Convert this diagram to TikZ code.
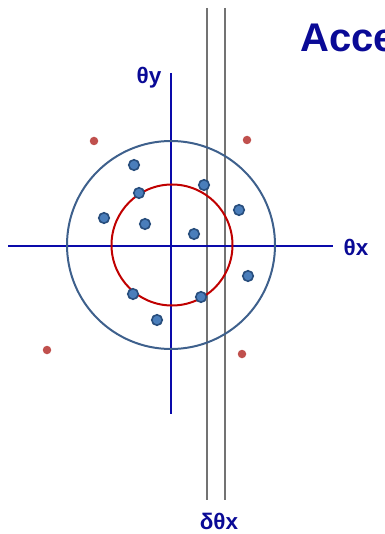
\documentclass[tikz,border=0pt]{standalone}
\usepackage{fontspec}
\setmainfont{Liberation Sans}
\definecolor{axisblue}{RGB}{10,10,170}
\definecolor{txtblue}{RGB}{10,10,150}
\definecolor{ringblue}{RGB}{62,96,140}
\definecolor{ringred}{RGB}{192,0,0}
\definecolor{dotfill}{RGB}{74,126,187}
\definecolor{dotedge}{RGB}{40,78,125}
\definecolor{reddot}{RGB}{192,80,77}
\begin{document}
\begin{tikzpicture}[x=1pt,y=-1pt,
  axis/.style={draw=axisblue,line width=1.1pt},
  slit/.style={draw=black!55,line width=1.1pt},
  lbl/.style={text=txtblue,font=\bfseries\fontsize{22.5}{24}\selectfont,inner sep=0pt},
  bdot/.style={circle,fill=dotfill,draw=dotedge,line width=1.6pt,minimum size=10.5pt,inner sep=0pt},
  rdot/.style={circle,fill=reddot,minimum size=8.5pt,inner sep=0pt}]
\useasboundingbox (0,0) rectangle (384,534);
% slits
\coordinate (s1t) at (207,8); \coordinate (s1b) at (207,500);
\coordinate (s2t) at (225,8); \coordinate (s2b) at (225,500);
\draw[slit] (s1t) -- (s1b);
\draw[slit] (s2t) -- (s2b);
% axes
\coordinate (xl) at (8,246); \coordinate (xr) at (333,246);
\coordinate (yt) at (171,73); \coordinate (yb) at (171,414);
\draw[axis] (xl) -- (xr);
\draw[axis] (yt) -- (yb);
% circles
\node[circle,draw=ringblue,line width=2pt,minimum size=208pt,inner sep=0pt] (outer) at (171,245) {};
\node[circle,draw=ringred,line width=2pt,minimum size=121pt,inner sep=0pt] (inner) at (172,245) {};
% blue dots
\node[bdot] (b1) at (134,165) {};
\node[bdot] (b2) at (139,193) {};
\node[bdot] (b3) at (204,185) {};
\node[bdot] (b4) at (239,210) {};
\node[bdot] (b5) at (104,218) {};
\node[bdot] (b6) at (145,224) {};
\node[bdot] (b7) at (194,234) {};
\node[bdot] (b8) at (248,276) {};
\node[bdot] (b9) at (133,294) {};
\node[bdot] (b10) at (201,297) {};
\node[bdot] (b11) at (157,320) {};
% red dots
\node[rdot] (r1) at (94,141) {};
\node[rdot] (r2) at (247,140) {};
\node[rdot] (r3) at (47,350) {};
\node[rdot] (r4) at (242,354) {};
% labels
\node[lbl] (ty) at (149,78) {θy};
\node[lbl] (tx) at (356,247) {θx};
\node[lbl] (dtx) at (219,521) {δθx};
\node[text=txtblue,font=\bfseries\fontsize{40}{44}\selectfont,inner sep=0pt,anchor=base west] (title) at (300,52) {Acce};
\end{tikzpicture}
\end{document}
